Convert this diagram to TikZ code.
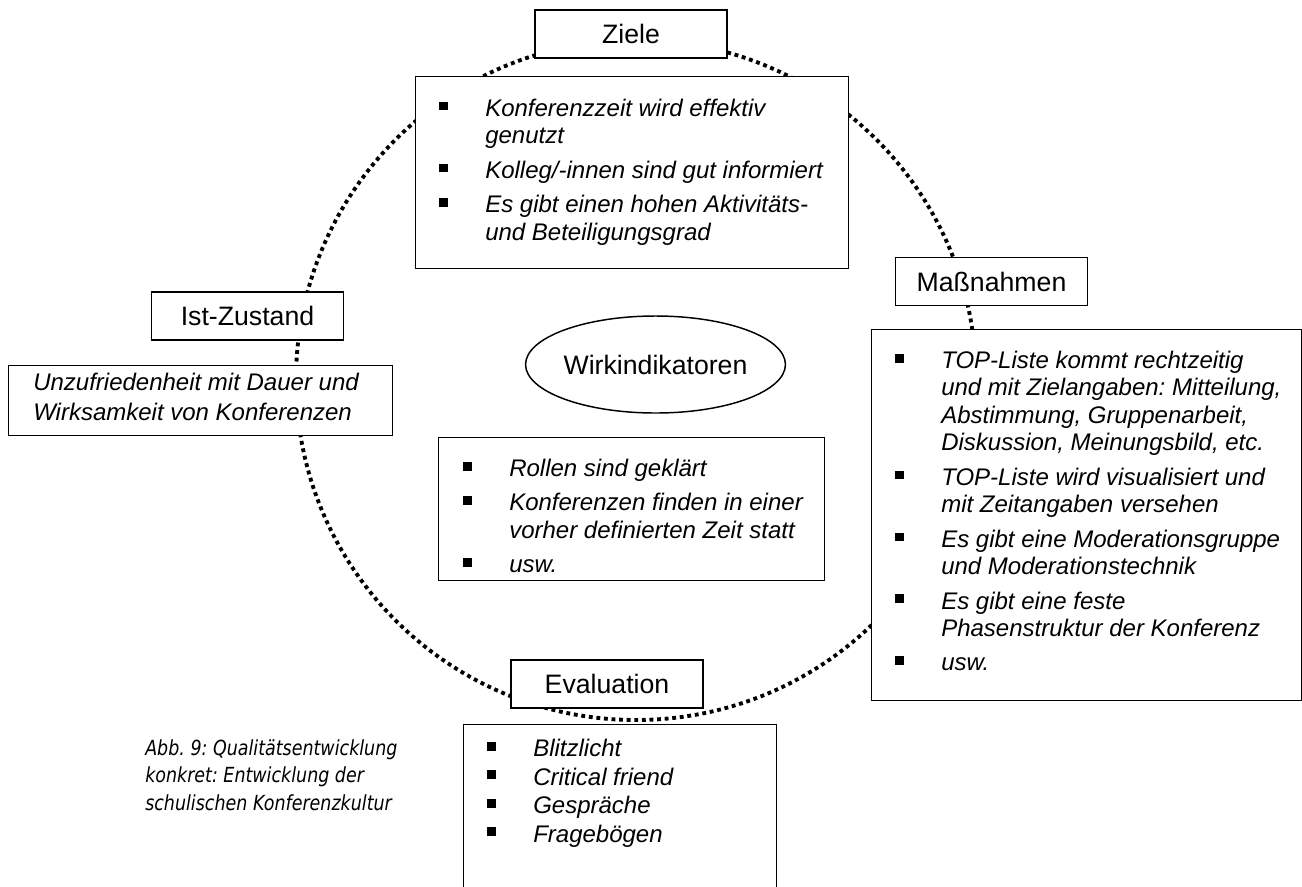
\documentclass[tikz,border=0pt]{standalone}
\usepackage{fontspec}
\setmainfont{Liberation Sans}
\newfontfamily\capfont[FakeStretch=0.84]{DejaVu Sans}
\usetikzlibrary{shapes.geometric}

% text settings for the boxed lists
\newcommand\cfont{\fontsize{18pt}{20.6pt}\selectfont\itshape}
\newcommand\bul{\makebox[34.5pt][l]{\raisebox{4.5pt}{\rule{6.5pt}{6.5pt}}}}
\newcommand\itemgap{\\[5.2pt]}

\begin{document}
\frenchspacing
\begin{tikzpicture}[x=0.75pt,y=-0.75pt,
  tag/.style={draw, line width=1.1pt, fill=white, minimum width=144pt,
    minimum height=36pt, inner sep=0pt, font=\fontsize{20pt}{24pt}\selectfont},
  panel/.style={draw, line width=1.1pt, fill=white, anchor=north west, inner sep=0pt},
  list/.style={anchor=north west, inner sep=0pt, font=\cfont},
  ring/.style={line width=2.9pt, dash pattern=on 2.9pt off 2.8pt}]

\useasboundingbox (0,0) rectangle (1302,886);
\clip (0,0) rectangle (1302,886);

% the dotted cycle behind all boxes
\coordinate (hub) at (636,380);
\draw[ring] (hub) circle[radius=340];

% Ziele
\node[tag] (ziele) at (631,34) {Ziele};
\node[panel, minimum width=433*0.75pt, minimum height=192*0.75pt] (zpanel) at (415,76) {};
\node[list] (ztext) at ([shift={(24,21)}]zpanel.north west) {%
  \begin{tabular}{@{}l@{}l@{}}
  \bul & Konferenzzeit wird effektiv\\
       & genutzt\itemgap
  \bul & Kolleg/-innen sind gut informiert\itemgap
  \bul & Es gibt einen hohen Aktivitäts-\\
       & und Beteiligungsgrad
  \end{tabular}};

% Massnahmen
\node[tag] (mass) at (991.5,281.5) {Maßnahmen};
\node[panel, minimum width=429.5*0.75pt, minimum height=371*0.75pt] (mpanel) at (871,329) {};
\node[list] (mtext) at ([shift={(24,20)}]mpanel.north west) {%
  \begin{tabular}{@{}l@{}l@{}}
  \bul & TOP-Liste kommt rechtzeitig\\
       & und mit Zielangaben: Mitteilung,\\
       & Abstimmung, Gruppenarbeit,\\
       & Diskussion, Meinungsbild, etc.\itemgap
  \bul & TOP-Liste wird visualisiert und\\
       & mit Zeitangaben versehen\itemgap
  \bul & Es gibt eine Moderationsgruppe\\
       & und Moderationstechnik\itemgap
  \bul & Es gibt eine feste\\
       & Phasenstruktur der Konferenz\itemgap
  \bul & usw.
  \end{tabular}};

% Ist-Zustand
\node[tag] (ist) at (247.5,316) {Ist-Zustand};
\node[panel, minimum width=384*0.75pt, minimum height=70*0.75pt] (ipanel) at (8,365) {};
\node[list] (itext) at ([shift={(25,6)}]ipanel.north west) {%
  \begin{tabular}{@{}l@{}}
  Unzufriedenheit mit Dauer und\\[1.9pt]
  Wirksamkeit von Konferenzen
  \end{tabular}};

% Wirkindikatoren
\node[draw, ellipse, line width=1.1pt, minimum width=241*0.75pt, minimum height=97*0.75pt,
  inner sep=0pt, font=\fontsize{20pt}{24pt}\selectfont] (wirk) at (655.5,364.5) {Wirkindikatoren};
\node[panel, minimum width=386*0.75pt, minimum height=143*0.75pt] (wpanel) at (438,437) {};
\node[list] (wtext) at ([shift={(25,20)}]wpanel.north west) {%
  \begin{tabular}{@{}l@{}l@{}}
  \bul & Rollen sind geklärt\itemgap
  \bul & Konferenzen finden in einer\\
       & vorher definierten Zeit statt\itemgap
  \bul & usw.
  \end{tabular}};

% Evaluation
\node[tag] (eval) at (607,684) {Evaluation};
\node[panel, minimum width=313*0.75pt, minimum height=200*0.75pt] (epanel) at (463,724) {};
\node[list] (etext) at ([shift={(24,13)}]epanel.north west) {%
  \begin{tabular}{@{}l@{}l@{}}
  \bul & Blitzlicht\\[0.8pt]
  \bul & Critical friend\\[0.8pt]
  \bul & Gespräche\\[0.8pt]
  \bul & Fragebögen
  \end{tabular}};

% caption
\node[anchor=north west, inner sep=0pt,
  font=\capfont\itshape\fontsize{15.6pt}{20.6pt}\selectfont] (caption) at (145,736) {%
  \begin{tabular}{@{}l@{}}
  Abb. 9: Qualitätsentwicklung\\
  konkret: Entwicklung der\\
  schulischen Konferenzkultur
  \end{tabular}};
\end{tikzpicture}
\end{document}
